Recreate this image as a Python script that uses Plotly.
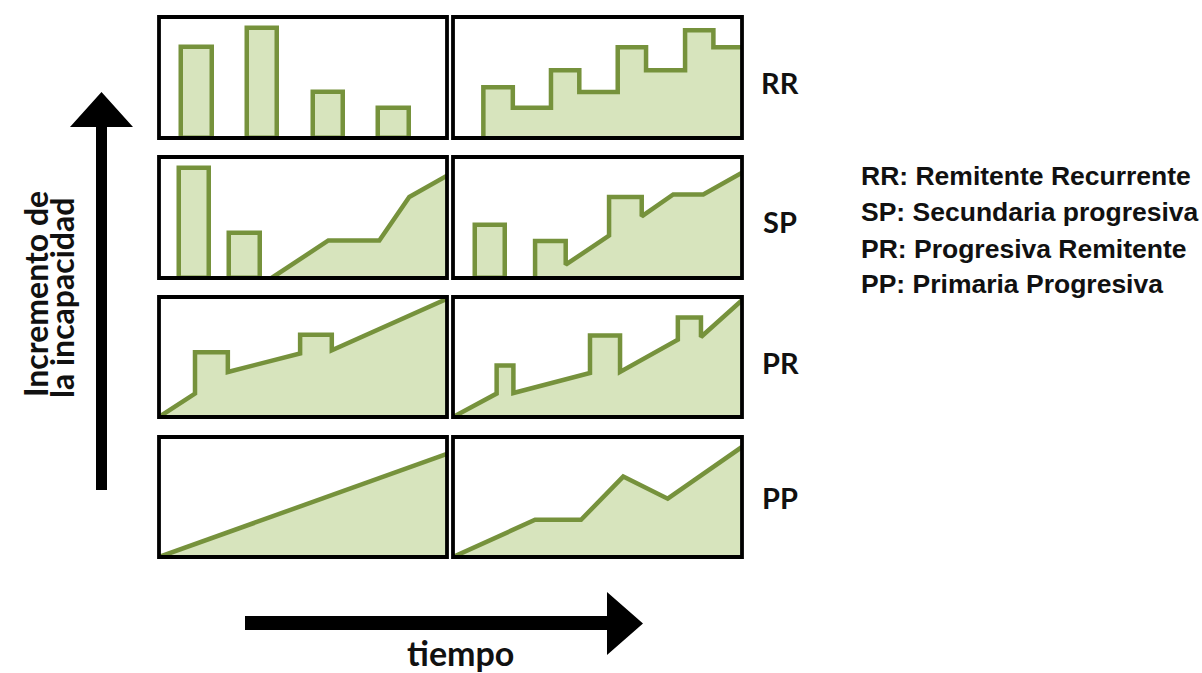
import plotly.graph_objects as go

W, H = 1202, 673

# ---------------- data (time 0-100, disability 0-100 per panel) ----------------
rr_bar_x = [13.0, 35.7, 58.6, 81.4]
rr_bar_y = [75, 91, 38, 25]

rr_step_x = [10.5, 10.5, 20.7, 33.9, 43.7, 57.0, 66.8, 80.3, 90.1, 100]
rr_step_y = [0, 42, 25, 56, 38, 75, 56, 89, 75, 75]

sp_bar_x = [12.2, 29.7]
sp_bar_y = [91, 37]
sp_line_x = [39.1, 58.8, 76.5, 86.9, 100]
sp_line_y = [0, 31, 31, 67, 84.5]

sp2_bar_x = [12.8]
sp2_bar_y = [44]
sp2_line_x = [28.4, 28.4, 39.0, 39.0, 54.0, 54.0, 65.3, 65.3, 76.2, 86.6, 100]
sp2_line_y = [0, 30.5, 30.5, 11, 35, 67, 67, 51, 69, 69, 87]

pr_line_x = [0, 12.5, 12.5, 23.9, 23.9, 49.0, 49.0, 60.0, 60.0, 100]
pr_line_y = [0, 19.5, 54, 54, 37.5, 53, 68.5, 68.5, 55.5, 98.5]

pr2_line_x = [0, 15.1, 15.1, 20.9, 20.9, 47.4, 47.4, 57.8, 57.8, 77.8, 77.8, 85.8, 85.8, 100]
pr2_line_y = [0, 19.5, 43, 43, 20, 36.7, 68, 68, 37.5, 64.5, 83, 83, 66.7, 97.3]

pp_line_x = [0, 100]
pp_line_y = [0, 86]

pp2_line_x = [0, 28.4, 44.3, 58.9, 74.3, 100]
pp2_line_y = [0, 31, 31, 67, 48.6, 91.7]

row_labels = ["RR", "SP", "PR", "PP"]
legend_lines = ["RR: Remitente Recurrente", "SP: Secundaria progresiva",
                "PR: Progresiva Remitente", "PP: Primaria Progresiva"]
y_title = ["Incremento de", "la incapacidad"]
x_title = "tiempo"

# ---------------- styles ----------------
FILL = "#D7E4BD"
LINE = "#76923C"
LW = 4.5
BAR_W = 10.6

col_px = [(159, 447), (453, 742)]
row_px = [(17, 138), (157, 278), (297, 417), (437, 557)]


def fx(px):
    return px / W


def fy(py):
    return 1 - py / H


fig = go.Figure()
layout_axes = {}


def ax_id(r, c):
    return r * 2 + c + 1


for r in range(4):
    for c in range(2):
        i = ax_id(r, c)
        sfx = "" if i == 1 else str(i)
        layout_axes["xaxis" + sfx] = dict(
            domain=[fx(col_px[c][0]), fx(col_px[c][1])], range=[0, 100],
            anchor="y" + sfx, visible=False, fixedrange=True)
        layout_axes["yaxis" + sfx] = dict(
            domain=[fy(row_px[r][1]), fy(row_px[r][0])], range=[0, 100],
            anchor="x" + sfx, visible=False, fixedrange=True)


def refs(r, c):
    i = ax_id(r, c)
    sfx = "" if i == 1 else str(i)
    return "x" + sfx, "y" + sfx


def add_bars(r, c, xs, ys):
    xa, ya = refs(r, c)
    fig.add_trace(go.Bar(x=xs, y=ys, width=BAR_W, xaxis=xa, yaxis=ya,
                         marker=dict(color=FILL, line=dict(color=LINE, width=LW)),
                         hoverinfo="skip", showlegend=False))


def add_area(r, c, xs, ys, shape="linear"):
    xa, ya = refs(r, c)
    fig.add_trace(go.Scatter(x=xs, y=ys, xaxis=xa, yaxis=ya, mode="lines",
                             line=dict(color=LINE, width=LW, shape=shape),
                             fill="tozeroy", fillcolor=FILL,
                             hoverinfo="skip", showlegend=False))


add_bars(0, 0, rr_bar_x, rr_bar_y)
add_area(0, 1, rr_step_x, rr_step_y, shape="hv")
add_bars(1, 0, sp_bar_x, sp_bar_y)
add_area(1, 0, sp_line_x, sp_line_y)
add_bars(1, 1, sp2_bar_x, sp2_bar_y)
add_area(1, 1, sp2_line_x, sp2_line_y)
add_area(2, 0, pr_line_x, pr_line_y)
add_area(2, 1, pr2_line_x, pr2_line_y)
add_area(3, 0, pp_line_x, pp_line_y)
add_area(3, 1, pp2_line_x, pp2_line_y)

shapes = []
# panel borders
for r in range(4):
    for c in range(2):
        xa, ya = refs(r, c)
        shapes.append(dict(type="rect", xref=xa + " domain", yref=ya + " domain",
                           x0=0, x1=1, y0=0, y1=1, layer="above",
                           line=dict(color="black", width=3.8)))


def poly(pts):
    s = "M " + " L ".join(f"{fx(x):.5f},{fy(y):.5f}" for x, y in pts) + " Z"
    return s


# vertical arrow
shapes.append(dict(type="path", xref="paper", yref="paper",
                   path=poly([(96, 490), (96, 127), (70, 127), (101.5, 92),
                              (133, 127), (107, 127), (107, 490)]),
                   fillcolor="black", line=dict(width=0)))
# horizontal arrow
shapes.append(dict(type="path", xref="paper", yref="paper",
                   path=poly([(245, 616), (607, 616), (607, 592), (643, 623.5),
                              (607, 655), (607, 630), (245, 630)]),
                   fillcolor="black", line=dict(width=0)))

annotations = []
label_y = [82, 222, 362, 497]
for lab, yy in zip(row_labels, label_y):
    annotations.append(dict(text=f"<b>{lab}</b>", x=fx(780), y=fy(yy), xref="paper", yref="paper",
                            showarrow=False, xanchor="center", yanchor="middle",
                            font=dict(family="Lato", size=29, color="#111")))

leg_y = [176, 212, 249, 284]
for t, yy in zip(legend_lines, leg_y):
    annotations.append(dict(text=f"<b>{t}</b>", x=fx(859), y=fy(yy), xref="paper", yref="paper",
                            showarrow=False, xanchor="left", yanchor="middle",
                            font=dict(family="Liberation Sans, Arial", size=26.5, color="#111")))

annotations.append(dict(text=f"<b>{x_title}</b>", x=fx(460), y=fy(652), xref="paper", yref="paper",
                        showarrow=False, xanchor="center", yanchor="middle",
                        font=dict(family="Lato", size=34, color="#111")))

annotations.append(dict(text=f"<b>{y_title[0]}</b>", x=fx(35), y=fy(294), xref="paper", yref="paper",
                        showarrow=False, xanchor="center", yanchor="middle", textangle=-90,
                        font=dict(family="Lato", size=32, color="#111")))
annotations.append(dict(text=f"<b>{y_title[1]}</b>", x=fx(61), y=fy(298), xref="paper", yref="paper",
                        showarrow=False, xanchor="center", yanchor="middle", textangle=-90,
                        font=dict(family="Lato", size=32, color="#111")))

fig.update_layout(width=W, height=H, margin=dict(l=0, r=0, t=0, b=0),
                  paper_bgcolor="white", plot_bgcolor="white",
                  shapes=shapes, annotations=annotations, bargap=0,
                  **layout_axes)

fig.write_html("out.html", config={"displayModeBar": False},
               post_script="document.body.style.margin='0';document.body.style.overflow='hidden';")
